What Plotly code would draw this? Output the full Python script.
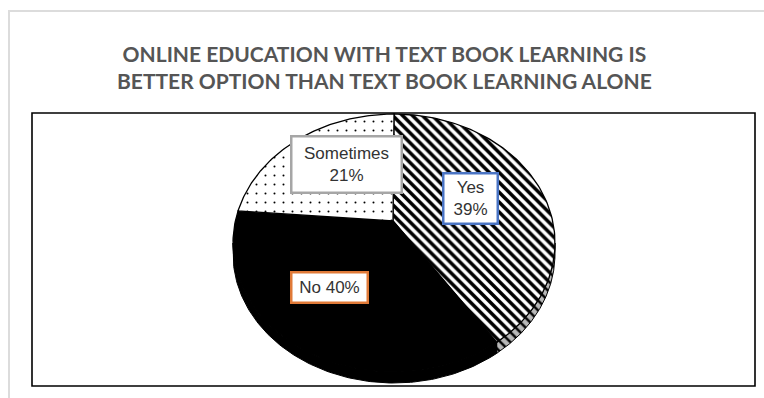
import numpy as np
import plotly.graph_objects as go

# Survey responses
categories = ["Yes", "No", "Sometimes"]
percentages = [39, 40, 21]

# Slice styling
slice_fill = {
    "Yes": dict(shape="\\", size=7, solidity=0.5, fgcolor="black", bgcolor="white", fgopacity=1),
    "No": None,
    "Sometimes": dict(shape=".", size=9, solidity=0.04, fgcolor="black", bgcolor="white", fgopacity=1),
}
side_fill = {
    "Yes": dict(shape="\\", size=7, solidity=0.35, fgcolor="black", bgcolor="#b8b8b8", fgopacity=1),
    "No": None,
    "Sometimes": None,
}
label_border = {"Yes": "#4a74c4", "No": "#e07a38", "Sometimes": "#a6a6a6"}
label_pos = {"Yes": (470, 198), "No": (329, 287), "Sometimes": (346, 164)}
label_size = {"Yes": (44, 40), "No": (66, 20), "Sometimes": (100, 46)}
label_text = {
    "Yes": "{c}<br>{p}%",
    "No": "{c} {p}%",
    "Sometimes": "{c}<br>{p}%",
}

# Pie geometry in page pixels (tilted, elliptical top face with a thin rim)
CX, CY = 394.0, 243.0
RX, RY = 161.0, 129.0
DEPTH = 11.0
AX, AY = 393.0, 221.0


def arc(t0, t1, dy=0.0, n=120):
    t = np.radians(np.linspace(t0, t1, n))
    return CX + RX * np.sin(t), CY - RY * np.cos(t) + dy


fig = go.Figure()

total = float(sum(percentages))
bounds = np.concatenate([[0.0], np.cumsum(percentages) / total * 360.0])

# Visible rim (front half of the pie, 90..270 degrees clockwise from top)
for cat, t0, t1 in zip(categories, bounds[:-1], bounds[1:]):
    lo, hi = max(t0, 90.0), min(t1, 270.0)
    if lo >= hi:
        continue
    xt, yt = arc(lo, hi)
    xb, yb = arc(hi, lo, DEPTH)
    xs = np.concatenate([xt, xb, xt[:1]])
    ys = np.concatenate([yt, yb, yt[:1]])
    pat = side_fill[cat]
    kw = dict(fillpattern=pat, fillcolor=pat["bgcolor"]) if pat else dict(fillcolor="black")
    fig.add_trace(go.Scatter(x=xs, y=ys, mode="lines", fill="toself",
                             line=dict(color="black", width=1), hoverinfo="skip",
                             showlegend=False, **kw))

# Top face wedges
for cat, t0, t1 in zip(categories, bounds[:-1], bounds[1:]):
    xa, ya = arc(t0, t1)
    xs = np.concatenate([[AX], xa, [AX]])
    ys = np.concatenate([[AY], ya, [AY]])
    pat = slice_fill[cat]
    kw = dict(fillpattern=pat, fillcolor=pat["bgcolor"]) if pat else dict(fillcolor="black")
    fig.add_trace(go.Scatter(x=xs, y=ys, mode="lines", fill="toself",
                             line=dict(color="black", width=1.3), name=cat,
                             showlegend=False, **kw))

# Data labels
for cat, pct in zip(categories, percentages):
    x, y = label_pos[cat]
    w, h = label_size[cat]
    fig.add_annotation(
        x=x, y=y, xref="x", yref="y", showarrow=False,
        text=label_text[cat].format(c=cat, p=pct),
        width=w, height=h, align="center", valign="middle",
        font=dict(family="Liberation Sans, Arial", size=17, color="#333333"),
        bgcolor="white", bordercolor=label_border[cat], borderwidth=2.5, borderpad=4,
    )

# Title
fig.add_annotation(
    x=384, y=67, xref="x", yref="y", showarrow=False,
    text="ONLINE EDUCATION WITH TEXT BOOK LEARNING IS<br>BETTER OPTION THAN TEXT BOOK LEARNING ALONE",
    font=dict(family="Lato", size=21, color="#555555", weight="bold"),
    align="center",
)

# Outer chart-area frame and inner plot frame
fig.add_shape(type="rect", x0=9, y0=11, x1=790, y1=420, xref="x", yref="y",
              line=dict(color="#dcdcdc", width=2), layer="below")
fig.add_shape(type="rect", x0=32, y0=113, x1=755, y1=386, xref="x", yref="y",
              line=dict(color="black", width=1.6), layer="below")

fig.update_layout(
    width=764, height=398,
    margin=dict(l=0, r=0, t=0, b=0),
    paper_bgcolor="white", plot_bgcolor="white",
    xaxis=dict(range=[0, 764], visible=False, fixedrange=True),
    yaxis=dict(range=[398, 0], visible=False, fixedrange=True),
)

fig.write_html("out.html")
